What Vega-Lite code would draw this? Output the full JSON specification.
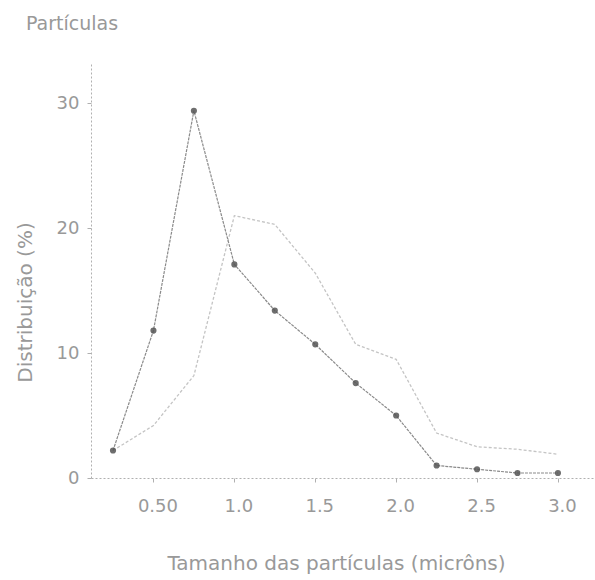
{
  "$schema": "https://vega.github.io/schema/vega-lite/v6.json",
  "width": 504,
  "height": 416,
  "autosize": {"type": "none"},
  "padding": {"left": 91, "top": 62, "right": 0, "bottom": 102},
  "background": "white",
  "title": {
    "text": "Partículas",
    "anchor": "start",
    "frame": "group",
    "dx": -65,
    "offset": 28,
    "fontSize": 19,
    "font": "DejaVu Sans",
    "fontWeight": "normal",
    "color": "#999999"
  },
  "data": {
    "values": [
      {"x": 0.25, "v": 2.2, "s": "A"},
      {"x": 0.5, "v": 11.8, "s": "A"},
      {"x": 0.75, "v": 29.4, "s": "A"},
      {"x": 1.0, "v": 17.1, "s": "A"},
      {"x": 1.25, "v": 13.4, "s": "A"},
      {"x": 1.5, "v": 10.7, "s": "A"},
      {"x": 1.75, "v": 7.6, "s": "A"},
      {"x": 2.0, "v": 5.0, "s": "A"},
      {"x": 2.25, "v": 1.0, "s": "A"},
      {"x": 2.5, "v": 0.7, "s": "A"},
      {"x": 2.75, "v": 0.4, "s": "A"},
      {"x": 3.0, "v": 0.4, "s": "A"},
      {"x": 0.25, "v": 2.2, "s": "B"},
      {"x": 0.5, "v": 4.2, "s": "B"},
      {"x": 0.75, "v": 8.2, "s": "B"},
      {"x": 1.0, "v": 21.0, "s": "B"},
      {"x": 1.25, "v": 20.3, "s": "B"},
      {"x": 1.5, "v": 16.4, "s": "B"},
      {"x": 1.75, "v": 10.7, "s": "B"},
      {"x": 2.0, "v": 9.5, "s": "B"},
      {"x": 2.25, "v": 3.6, "s": "B"},
      {"x": 2.5, "v": 2.5, "s": "B"},
      {"x": 2.75, "v": 2.3, "s": "B"},
      {"x": 3.0, "v": 1.9, "s": "B"}
    ]
  },
  "encoding": {
    "x": {
      "field": "x",
      "type": "quantitative",
      "scale": {"domain": [0.114, 3.229], "nice": false, "zero": false},
      "axis": {
        "title": "Tamanho das partículas (micrôns)",
        "values": [0.5, 1.0, 1.5, 2.0, 2.5, 3.0],
        "labelExpr": "datum.value == 0.5 ? '0.50' : format(datum.value, '.1f')",
        "grid": false,
        "tickSize": 4,
        "labelPadding": 15,
        "labelOffset": 4,
        "labelFontSize": 18,
        "titleFontSize": 20,
        "titleX": 245,
        "titleY": 85,
        "titleBaseline": "middle",
        "titleAlign": "center"
      }
    },
    "y": {
      "field": "v",
      "type": "quantitative",
      "scale": {"domain": [0, 33.3], "nice": false},
      "axis": {
        "title": "Distribuição (%)",
        "values": [0, 10, 20, 30],
        "grid": false,
        "tickSize": 4,
        "labelPadding": 8,
        "labelFontSize": 18,
        "titleFontSize": 20,
        "titleX": -66,
        "titleY": 240,
        "titleAngle": -90,
        "titleBaseline": "middle",
        "titleAlign": "center"
      }
    }
  },
  "layer": [
    {
      "transform": [{"filter": "datum.s == 'B'"}],
      "mark": {"type": "line", "color": "#c4c4c4", "strokeWidth": 1.3, "strokeDash": [3, 2]}
    },
    {
      "transform": [{"filter": "datum.s == 'A'"}],
      "mark": {"type": "line", "color": "#8a8a8a", "strokeWidth": 1.2, "strokeDash": [3, 1]}
    },
    {
      "transform": [{"filter": "datum.s == 'A'"}],
      "mark": {"type": "point", "shape": "circle", "filled": true, "color": "#555555", "size": 38, "opacity": 0.85}
    }
  ],
  "config": {
    "view": {"stroke": null},
    "font": "DejaVu Sans",
    "axis": {
      "domainColor": "#b0b0b0",
      "domainDash": [2, 2],
      "tickColor": "#b0b0b0",
      "labelColor": "#999999",
      "titleColor": "#999999",
      "labelFont": "DejaVu Sans",
      "titleFont": "DejaVu Sans",
      "titleFontWeight": "normal"
    }
  }
}
